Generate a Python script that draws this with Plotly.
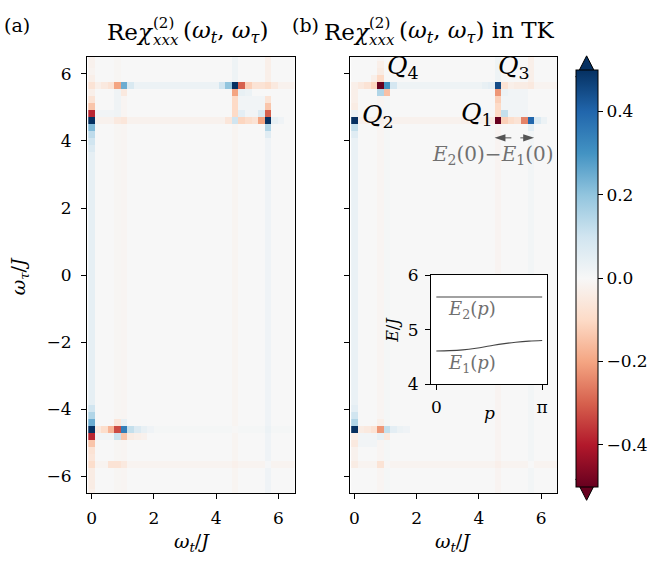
import numpy as np
import plotly.graph_objects as go

# ---------------- data ----------------
DW = 13 / 62  # frequency grid step
OMEGA_T = [round(k * DW, 4) for k in range(0, 32)]
OMEGA_TAU = [round(k * DW, 4) for k in range(-31, 32)]

# faint stripes / blocks: (t_from, t_to, tau_from, tau_to, value)
A_BLOCKS = [
    (0.0, 0.0, -3.77, 3.98, 0.045),
    (0.84, 0.84, -6.5, 6.5, -0.008),
    (1.05, 1.05, -6.5, 5.24, -0.01),
    (0.84, 0.84, 4.82, 5.45, 0.03),
    (1.26, 4.19, 5.66, 5.66, 0.03),
    (5.87, 6.5, 5.66, 5.66, -0.02),
    (0.21, 4.40, 4.61, 4.61, -0.02),
    (0.21, 0.63, 4.82, 4.82, 0.015),
    (4.61, 4.61, -6.5, 4.40, -0.012),
    (4.61, 4.61, 5.87, 6.5, 0.025),
    (5.66, 5.66, -6.5, 4.40, 0.02),
    (5.66, 5.66, 5.87, 6.5, -0.03),
    (4.82, 5.45, 4.82, 5.24, 0.015),
    (0.21, 6.5, -5.66, -5.66, -0.014),
    (0.21, 0.63, -4.82, -4.82, 0.015),
    (1.89, 6.5, -4.61, -4.61, 0.008),
]
A_CELLS = [
    (0, 6.5, -0.02), (0, 6.29, -0.02), (0, 6.08, -0.015), (0, 5.87, -0.03),
    (0, 5.66, -0.07), (0, 5.45, -0.03), (0, 5.24, -0.07), (0, 5.03, -0.14),
    (0, 4.82, -0.38), (0, 4.61, 0.5), (0, 4.40, 0.22), (0, 4.19, 0.13),
    (0, 3.98, 0.1), (0, 3.77, 0.07),
    (0.21, 5.66, -0.03), (0.42, 5.66, -0.05), (0.63, 5.66, -0.07),
    (0.84, 5.66, -0.2), (1.05, 5.66, 0.25), (1.26, 5.66, 0.08),
    (1.05, 5.45, -0.05), (0.84, 4.61, -0.05), (1.05, 4.61, -0.06),
    (4.19, 5.66, 0.1), (4.40, 5.66, 0.2), (4.61, 5.66, 0.5), (4.82, 5.66, -0.3),
    (5.03, 5.66, -0.12), (5.24, 5.66, -0.07), (5.45, 5.66, -0.07),
    (5.66, 5.66, -0.09), (5.87, 5.66, -0.05),
    (4.61, 5.45, -0.2), (4.82, 5.45, 0.04), (5.03, 5.45, 0.03),
    (4.61, 5.24, -0.1), (4.61, 5.03, -0.1), (5.66, 5.24, -0.07), (5.66, 5.03, -0.14),
    (4.61, 4.82, -0.1), (4.82, 4.82, 0.05), (5.45, 4.82, 0.07), (5.66, 4.82, -0.3),
    (4.40, 4.61, -0.06), (4.61, 4.61, 0.1), (4.82, 4.61, -0.11), (5.03, 4.61, -0.09),
    (5.24, 4.61, -0.07), (5.45, 4.61, -0.2), (5.66, 4.61, 0.5), (5.87, 4.61, 0.04),
    (6.08, 4.61, 0.02), (5.66, 4.40, 0.15), (5.66, 4.19, 0.06),
    (0, -3.98, 0.1), (0, -4.19, 0.15), (0, -4.40, 0.25), (0, -4.61, 0.5),
    (0, -4.82, -0.38), (0, -5.03, -0.14), (0, -5.24, -0.07), (0, -5.45, -0.06),
    (0, -5.66, -0.09), (0, -5.87, -0.04), (0, -6.08, -0.04), (0, -6.29, -0.04),
    (0, -6.5, -0.03),
    (0.21, -4.61, -0.05), (0.42, -4.61, -0.09), (0.63, -4.61, -0.17),
    (0.84, -4.61, -0.33), (1.05, -4.61, 0.35), (1.26, -4.61, 0.12),
    (1.47, -4.61, 0.07), (1.68, -4.61, 0.04), (1.89, -4.61, 0.02),
    (0.84, -4.82, 0.11), (1.05, -4.82, -0.14), (1.26, -4.82, -0.04),
    (1.47, -4.82, -0.03), (1.68, -4.82, -0.02),
    (0.84, -4.40, -0.06), (1.05, -4.40, 0.04),
    (0.63, -5.66, -0.07), (0.84, -5.66, -0.07), (1.05, -5.66, -0.05),
]

B_BLOCKS = [
    (0.0, 0.0, -3.77, 3.98, 0.035),
    (0.84, 0.84, -6.5, 6.5, -0.01),
    (1.05, 1.05, -6.5, 5.24, 0.008),
    (1.47, 4.0, 5.66, 5.66, 0.025),
    (5.87, 6.5, 5.66, 5.66, -0.015),
    (0.21, 4.19, 4.61, 4.61, -0.02),
    (4.61, 4.61, -6.5, 4.40, -0.013),
    (4.61, 4.61, 5.87, 6.5, 0.025),
    (5.66, 5.66, -6.5, 4.40, 0.013),
    (5.66, 5.66, 5.87, 6.5, -0.03),
    (4.82, 5.45, 4.82, 5.45, 0.015),
    (0.21, 6.5, -5.66, -5.66, -0.014),
    (0.21, 0.63, -5.03, -4.82, 0.015),
]
B_CELLS = [
    (0, 5.66, -0.03), (0, 5.45, -0.03), (0, 5.24, -0.03), (0, 5.03, -0.04),
    (0, 4.82, 0.03), (0, 4.61, 0.5), (0, 4.40, 0.12), (0, 4.19, 0.06),
    (0.21, 5.66, -0.05), (0.42, 5.66, -0.07), (0.63, 5.66, -0.11),
    (0.84, 5.66, -0.5), (1.05, 5.66, 0.3), (1.26, 5.66, 0.09),
    (0.84, 5.87, -0.1), (0.84, 6.08, -0.04), (0.84, 6.29, -0.03), (0.63, 5.87, -0.03),
    (0.84, 5.45, 0.15), (1.05, 5.45, -0.15),
    (4.19, 5.66, 0.04), (4.40, 5.66, 0.05), (4.61, 5.66, 0.45), (4.82, 5.66, -0.07),
    (5.03, 5.66, -0.03), (5.24, 5.66, -0.04), (5.45, 5.66, -0.04), (5.66, 5.66, -0.05),
    (4.61, 5.45, -0.22), (4.82, 5.45, 0.03),
    (4.61, 5.24, -0.12), (4.61, 5.03, -0.1), (4.61, 4.82, -0.1), (4.82, 4.82, 0.12),
    (4.40, 4.61, -0.04), (4.61, 4.61, -0.55), (4.82, 4.61, -0.12), (5.03, 4.61, -0.09),
    (5.24, 4.61, -0.07), (5.45, 4.61, -0.25), (5.66, 4.61, 0.4), (5.87, 4.61, 0.07),
    (6.08, 4.61, 0.03), (5.66, 4.40, 0.05),
    (0, -3.98, 0.05), (0, -4.19, 0.1), (0, -4.40, 0.15), (0, -4.61, 0.5),
    (0, -4.82, -0.03), (0, -5.03, -0.05), (0, -5.24, -0.02), (0, -5.45, -0.02),
    (0, -5.66, -0.04),
    (0.21, -4.61, -0.04), (0.42, -4.61, -0.05), (0.63, -4.61, -0.07),
    (0.84, -4.61, -0.22), (1.05, -4.61, 0.12), (1.26, -4.61, 0.05),
    (1.47, -4.61, 0.03), (1.68, -4.61, 0.02),
    (0.84, -4.82, 0.04), (1.05, -4.82, -0.05), (0.84, -4.40, -0.03),
    (0.84, -5.66, -0.07),
]

# inset dispersion
P_INSET = [0, np.pi / 8, np.pi / 4, 3 * np.pi / 8, np.pi / 2, 5 * np.pi / 8, 3 * np.pi / 4, 7 * np.pi / 8, np.pi]
E1_INSET = [4.61, 4.615, 4.63, 4.66, 4.70, 4.74, 4.77, 4.79, 4.80]
E2_INSET = [5.60, 5.60, 5.60, 5.60, 5.60, 5.60, 5.60, 5.60, 5.60]

CB_TICKS = [-0.4, -0.2, 0.0, 0.2, 0.4]


def build(blocks, cells):
    z = np.zeros((len(OMEGA_TAU), len(OMEGA_T)))
    ti = lambda t: int(round(t / DW))
    yi = lambda s: int(round(s / DW)) + 31
    for t0, t1, s0, s1, v in blocks:
        z[yi(s0):yi(s1) + 1, ti(t0):ti(t1) + 1] += v
    for t, s, v in cells:
        z[yi(s), ti(t)] = v
    return z


ZA = build(A_BLOCKS, A_CELLS)
ZB = build(B_BLOCKS, B_CELLS)

# ---------------- figure ----------------
W, H = 659, 574
FONT = "DejaVu Serif"
RDBU = [
    [0.0, 'rgb(103,0,31)'], [0.1, 'rgb(178,24,43)'], [0.2, 'rgb(214,96,77)'],
    [0.3, 'rgb(244,165,130)'], [0.4, 'rgb(253,219,199)'], [0.5, 'rgb(247,247,247)'],
    [0.6, 'rgb(209,229,240)'], [0.7, 'rgb(146,197,222)'], [0.8, 'rgb(67,147,195)'],
    [0.9, 'rgb(33,102,172)'], [1.0, 'rgb(5,48,97)'],
]


def px_x(p):
    return p / W


def px_y(p):
    return 1 - p / H


fig = go.Figure()
fig.add_trace(go.Heatmap(x=OMEGA_T, y=OMEGA_TAU, z=ZA, zmin=-0.5, zmax=0.5,
                         colorscale=RDBU, showscale=False, hoverinfo='skip',
                         xaxis='x', yaxis='y'))
fig.add_trace(go.Heatmap(
    x=OMEGA_T, y=OMEGA_TAU, z=ZB, zmin=-0.5, zmax=0.5, colorscale=RDBU,
    hoverinfo='skip', xaxis='x2', yaxis='y2', showscale=True,
    colorbar=dict(
        x=px_x(575.7), xanchor='left', xpad=0, ypad=0,
        y=px_y(277.7), yanchor='middle', lenmode='pixels', len=416.6,
        thicknessmode='pixels', thickness=21.6, outlinewidth=1, outlinecolor='black',
        tickvals=CB_TICKS, ticktext=['−0.4', '−0.2', '0.0', '0.2', '0.4'],
        ticks='outside', ticklen=5, tickwidth=1, tickcolor='black',
        tickfont=dict(family=FONT, size=17, color='black'),
    )))
fig.add_trace(go.Scatter(x=P_INSET, y=E2_INSET, mode='lines', line=dict(color='#444', width=1.1, shape='spline'),
                         xaxis='x3', yaxis='y3', hoverinfo='skip', showlegend=False))
fig.add_trace(go.Scatter(x=P_INSET, y=E1_INSET, mode='lines', line=dict(color='#444', width=1.1, shape='spline'),
                         xaxis='x3', yaxis='y3', hoverinfo='skip', showlegend=False))

XR = [-0.15, 6.52]
common_ax = dict(showgrid=False, zeroline=False, showline=True, linecolor='black', linewidth=1,
                 mirror=True, ticks='outside', ticklen=5, tickwidth=1, tickcolor='black',
                 tickfont=dict(family=FONT, size=17, color='black'))

fig.update_layout(
    width=W, height=H, margin=dict(l=0, r=0, t=0, b=0),
    paper_bgcolor='white', plot_bgcolor='white', showlegend=False,
    xaxis=dict(domain=[px_x(86), px_x(294)], range=XR, tickvals=[0, 2, 4, 6], ticklabelstandoff=4, **common_ax),
    yaxis=dict(domain=[px_y(500.7), px_y(48.7)], range=[-6.5, 6.5], tickvals=[-6, -4, -2, 0, 2, 4, 6],
               ticklabelstandoff=6, **common_ax),
    xaxis2=dict(domain=[px_x(349.3), px_x(557.3)], range=XR, tickvals=[0, 2, 4, 6], anchor='y2',
                ticklabelstandoff=4, **common_ax),
    yaxis2=dict(domain=[px_y(500.7), px_y(48.7)], range=[-6.5, 6.5], tickvals=[-6, -4, -2, 0, 2, 4, 6],
                showticklabels=False, anchor='x2', **common_ax),
    xaxis3=dict(domain=[px_x(430.7), px_x(547.3)], range=[-0.157, np.pi + 0.157], tickvals=[0, np.pi],
                ticktext=['0', 'π'], anchor='y3', ticklabelstandoff=2, **common_ax),
    yaxis3=dict(domain=[px_y(387.7), px_y(274.7)], range=[4, 6], tickvals=[4, 5, 6], anchor='x3',
                ticklabelstandoff=3, **common_ax),
)

# inset white background
fig.add_shape(type='rect', xref='x3 domain', yref='y3 domain', x0=0, x1=1, y0=0, y1=1,
              fillcolor='white', line=dict(width=0), layer='below')

# colorbar extension triangles
for base, tip, col in [(69.4, 47.5, 'rgb(5,48,97)'), (486.0, 508.0, 'rgb(103,0,31)')]:
    fig.add_shape(type='path', xref='paper', yref='paper',
                  path=f"M {px_x(575.7)},{px_y(base)} L {px_x(597.3)},{px_y(base)} L {px_x(586.5)},{px_y(tip)} Z",
                  fillcolor=col, line=dict(color='black', width=1))

ann = []


def text(x, y, s, size=18, color='black', xanchor='center', yanchor='middle', angle=0):
    ann.append(dict(x=px_x(x), y=px_y(y), xref='paper', yref='paper', text=s, showarrow=False,
                    font=dict(family=FONT, size=size, color=color), xanchor=xanchor, yanchor=yanchor,
                    textangle=angle))


# panel labels
text(1, 16, '(a)', size=19, xanchor='left')
text(289, 16, '(b)', size=19, xanchor='left')


# titles (Re chi with stacked super/subscript)
def title(x0, suffix):
    text(x0, 23, 'Re<i>χ</i>', size=23, xanchor='left')
    text(x0 + 46, 13, '(2)', size=15, xanchor='left')
    text(x0 + 46, 31, '<i>xxx</i>', size=15, xanchor='left')
    text(x0 + 76, 23, '(<i>ω</i><sub><i>t</i></sub>, <i>ω</i><sub><i>τ</i></sub>)' + suffix, size=23,
         xanchor='left')


title(104, '')
title(321, ' in TK')

# axis titles
text(191, 552, '<i>ω</i><sub><i>t</i></sub>/<i>J</i>', size=19)
text(453, 552, '<i>ω</i><sub><i>t</i></sub>/<i>J</i>', size=19)
text(18, 276, '<i>ω</i><sub><i>τ</i></sub>/<i>J</i>', size=19, angle=-90)

# Q labels
text(385, 59, '<i>Q</i><sub>4</sub>', size=25, xanchor='left')
text(496, 59, '<i>Q</i><sub>3</sub>', size=25, xanchor='left')
text(360, 110, '<i>Q</i><sub>2</sub>', size=25, xanchor='left')
text(459, 108, '<i>Q</i><sub>1</sub>', size=25, xanchor='left')
text(493, 150, '<i>E</i><sub>2</sub>(0)−<i>E</i><sub>1</sub>(0)', size=20, color='#707070')

# inset labels
text(446, 311, '<i>E</i><sub>2</sub>(<i>p</i>)', size=18, color='#707070', xanchor='left')
text(446, 367, '<i>E</i><sub>1</sub>(<i>p</i>)', size=18, color='#707070', xanchor='left')
text(392, 331, '<i>E</i>/<i>J</i>', size=16, angle=-90)
text(489, 418, '<i>p</i>', size=17)

fig.update_layout(annotations=ann)

# dashed double arrow E2(0)-E1(0)
fig.add_shape(type='line', xref='x2', yref='y2', x0=4.75, x1=5.55, y0=4.09, y1=4.09,
              line=dict(color='#555', width=1, dash='dash'))
for xb, xt in [(4.85, 4.50), (5.42, 5.77)]:
    fig.add_shape(type='path', xref='x2', yref='y2',
                  path=f"M {xb},{4.09 + 0.11} L {xt},4.09 L {xb},{4.09 - 0.11} Z",
                  fillcolor='#555', line=dict(color='#555', width=0))

fig.write_html("out.html")
